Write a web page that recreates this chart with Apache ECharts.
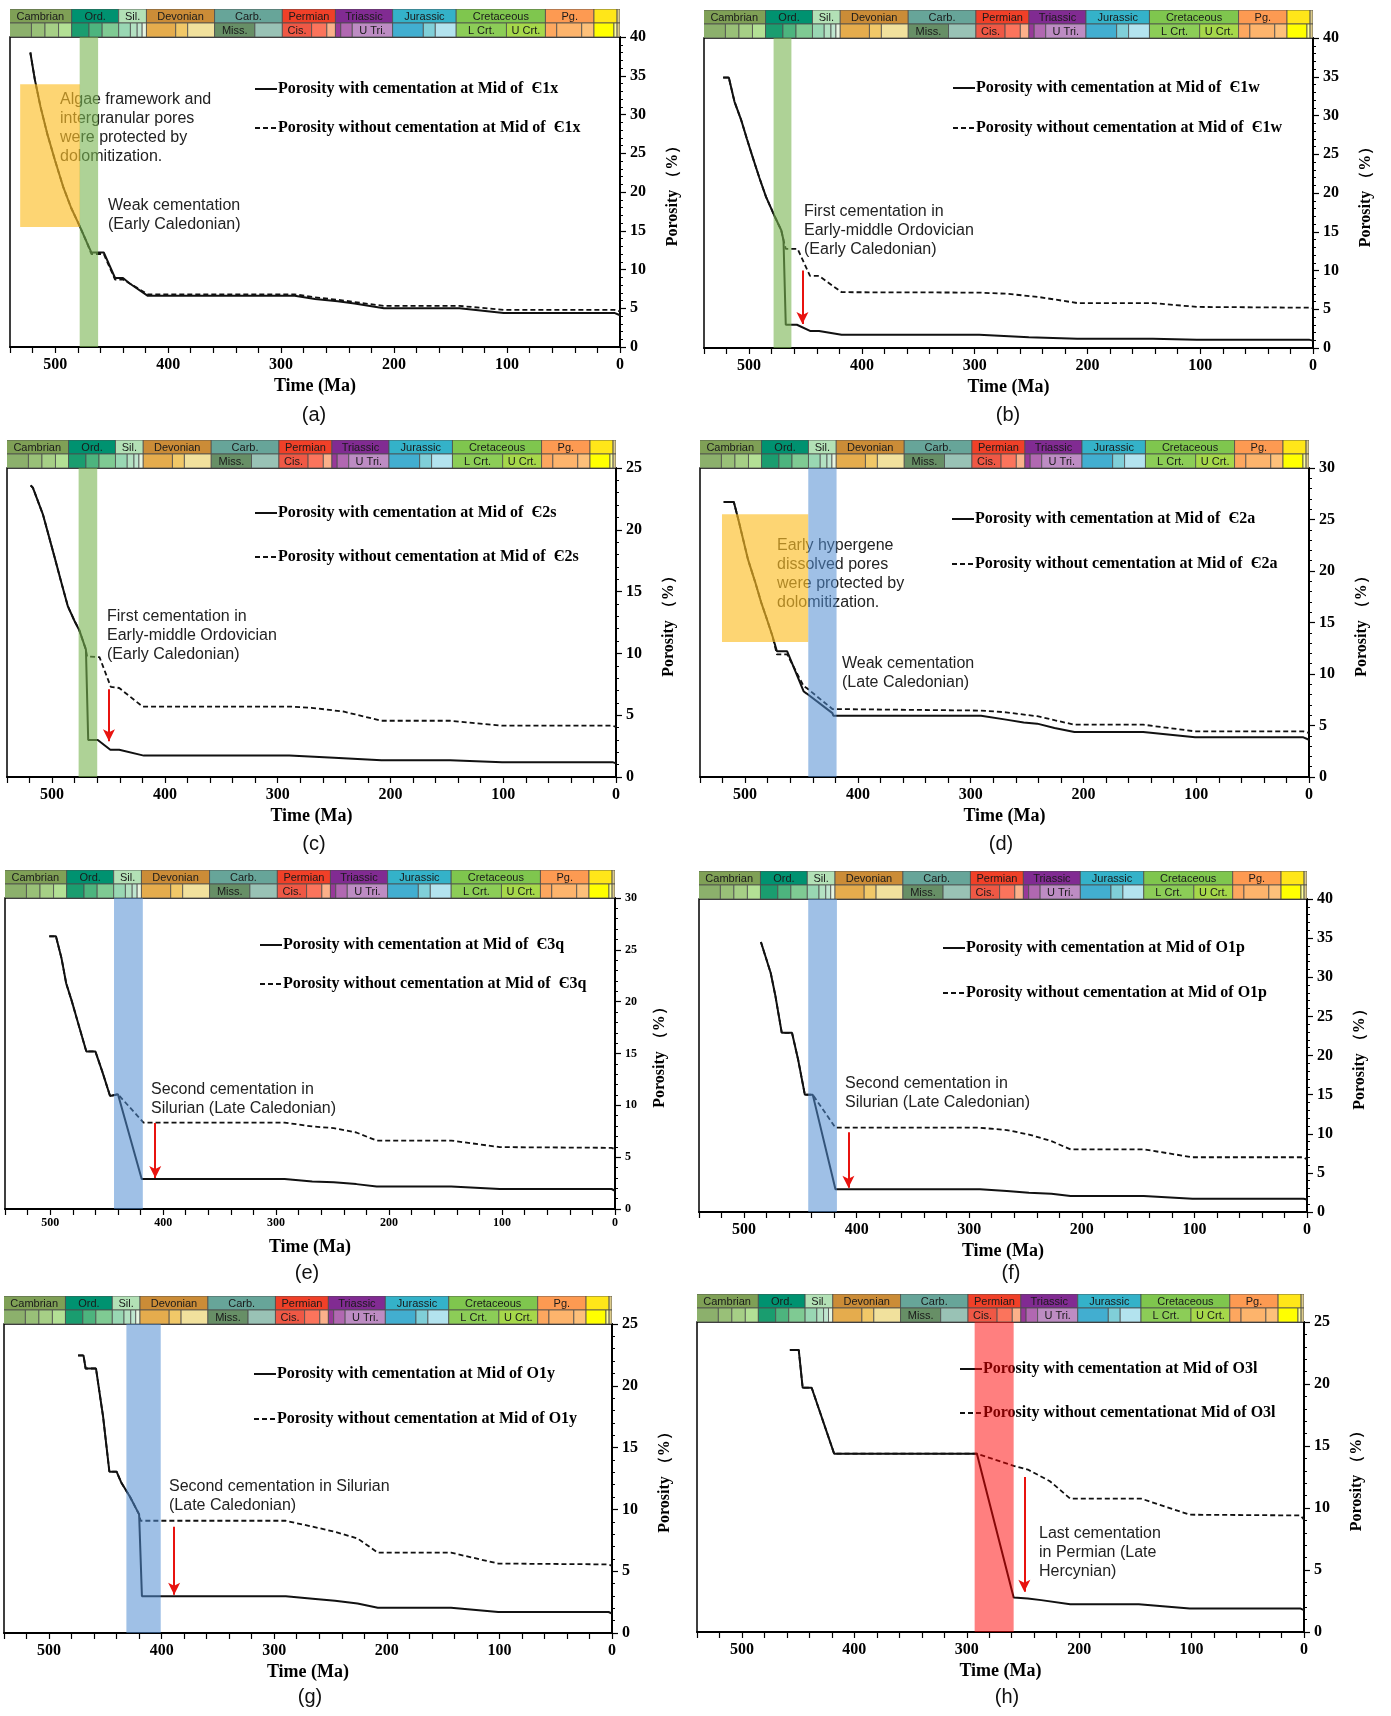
<!DOCTYPE html>
<html><head><meta charset="utf-8">
<script src="https://cdn.jsdelivr.net/npm/echarts@6/dist/echarts.min.js"></script>
<style>html,body{margin:0;padding:0;background:#fff}#c{width:1391px;height:1716px}</style>
</head><body><div id="c"></div>
<script>
// ---------------- DATA ----------------
// Geological time scale (Ma)
const periodNames  = ['Cambrian','Ord.','Sil.','Devonian','Carb.','Permian','Triassic','Jurassic','Cretaceous','Pg.','',''];
const periodStart  = [541,485.4,443.8,419.2,358.9,298.9,251.9,201.3,145,66,23.03,2.58];
const periodEnd    = [485.4,443.8,419.2,358.9,298.9,251.9,201.3,145,66,23.03,2.58,0];
const epochNames   = ['','','','', '','','', '','','','', '','','', 'Miss.','', 'Cis.','','', '','','U Tri.', '','','', 'L Crt.','U Crt.', '','','', '','', ''];
const epochStart   = [541,521,509,497, 485.4,470,458.4, 443.8,433.4,427.4,423, 419.2,393.3,382.7, 358.9,323.2, 298.9,273.01,259.51, 251.9,247.2,237, 201.3,174.1,163.5, 145,100.5, 66,56,33.9, 23.03,5.333, 2.58];
const epochEnd     = [521,509,497,485.4, 470,458.4,443.8, 433.4,427.4,423,419.2, 393.3,382.7,358.9, 323.2,298.9, 273.01,259.51,251.9, 247.2,237,201.3, 174.1,163.5,145, 100.5,66, 56,33.9,23.03, 5.333,2.58, 0];

// Porosity curves [Ma, %]
const solidA  = [[522,38],[518,34.5],[513,31],[507,27.5],[500,24],[493,20.7],[486,18],[478,15.5],[472,13.5],[468,12.2],[457,12.2],[447,8.9],[440,8.9],[434,8.2],[418,6.6],[288,6.6],[270,6.2],[250,5.9],[235,5.6],[209,5.0],[142,5.0],[103,4.4],[5,4.4],[0,4.1]];
const dashedA = [[522,38],[518,34.5],[513,31],[507,27.5],[500,24],[493,20.7],[486,18],[478,15.5],[472,13.5],[468,12.0],[457,12.0],[447,8.7],[440,8.7],[434,8.2],[418,6.8],[288,6.8],[270,6.4],[250,6.1],[235,5.8],[209,5.3],[142,5.3],[103,4.8],[5,4.8],[0,4.6]];
const solidB  = [[523,34.9],[518,34.9],[513,31.8],[507,29.4],[502,27],[497,24.7],[491,22],[485,19.5],[478,17.2],[471.5,15.2],[469.5,13.9],[467.5,3.0],[457.6,3.0],[446,2.2],[438,2.2],[418,1.7],[296,1.7],[252,1.4],[209,1.2],[142,1.2],[103,1.05],[3,1.05],[0,0.95]];
const dashedB = [[523,34.9],[518,34.9],[513,31.8],[507,29.4],[502,27],[497,24.7],[491,22],[485,19.5],[478,17.2],[471.5,15.2],[469.5,13.9],[467.5,12.8],[457,12.8],[446,9.3],[438,9.3],[418,7.2],[296,7.15],[272,7.0],[244,6.6],[209,5.8],[142,5.8],[103,5.3],[3,5.2],[0,5.1]];
const solidC  = [[519,23.6],[517,23.4],[508,21.2],[498,17.85],[492,15.8],[486,13.8],[480,12.6],[476,11.9],[470,10.3],[468,3.0],[459.5,3.0],[448.4,2.2],[440.5,2.2],[418.7,1.73],[289.7,1.73],[250,1.55],[208,1.35],[147,1.35],[101,1.2],[3,1.2],[0,1.1]];
const dashedC = [[519,23.6],[517,23.4],[508,21.2],[498,17.85],[492,15.8],[486,13.8],[480,12.6],[476,11.9],[470,10.3],[469,9.75],[458,9.7],[448,7.3],[440.5,7.2],[419.8,5.7],[289.7,5.7],[270,5.6],[242,5.3],[208,4.55],[147,4.55],[101,4.15],[3,4.15],[0,4.05]];
const solidD  = [[519,26.7],[510,26.7],[506,25],[497.4,21.1],[491,18.9],[485.6,16.9],[480,15.1],[475.7,13.66],[471.8,12.2],[462.7,12.2],[448,8.3],[445.4,8.1],[422.6,6.2],[421.8,5.95],[290.8,5.95],[268.6,5.57],[253,5.3],[241,5.18],[225.7,4.76],[208,4.37],[147,4.37],[101,3.85],[5,3.85],[0,3.62]];
const dashedD = [[519,26.7],[510,26.7],[506,25],[497.4,21.1],[491,18.9],[485.6,16.9],[480,15.1],[475.7,13.66],[471.8,11.9],[462.7,11.9],[448,8.8],[445.4,8.64],[422.6,6.6],[421,6.45],[290.8,6.45],[268.6,6.28],[241,5.9],[225,5.5],[208,5.08],[147,5.08],[101,4.43],[5,4.43],[0,4.27]];
const solidE  = [[500.8,26.3],[494.9,26.3],[490,24.2],[485.8,21.75],[481,20.1],[476,18.2],[468,15.2],[460,15.2],[454,13.3],[447,10.9],[440,11.07],[419,2.9],[292.5,2.9],[268,2.66],[249,2.57],[229,2.4],[211,2.18],[145,2.18],[102,1.93],[3,1.93],[0,1.76]];
const dashedE = [[500.8,26.3],[494.9,26.3],[490,24.2],[485.8,21.75],[481,20.1],[476,18.2],[468,15.2],[460,15.2],[454,13.3],[447,10.9],[440,11.07],[417.4,8.34],[292.5,8.34],[268,7.96],[249,7.8],[229,7.38],[211,6.6],[145,6.6],[102,5.97],[3,5.9],[0,5.77]];
const solidF  = [[485,34.5],[476.3,30.55],[472,27.5],[466.5,22.9],[457.4,22.9],[452,19.5],[446,15.0],[439,15.0],[418.8,2.9],[290.5,2.9],[266.6,2.68],[247,2.47],[227,2.34],[210,2.04],[145,2.04],[101.7,1.7],[3,1.7],[0,1.6]];
const dashedF = [[485,34.5],[476.3,30.55],[472,27.5],[466.5,22.9],[457.4,22.9],[452,19.5],[446,15.0],[439,15.0],[418.8,10.77],[290.5,10.77],[266.6,10.47],[247,9.9],[227,9.06],[210,8.0],[145,8.0],[101.7,7.0],[3,7.0],[0,6.72]];
const solidG  = [[474.2,22.46],[469.4,22.46],[467.5,21.4],[458.3,21.4],[452,17.5],[446.4,13.05],[440,13.05],[436,12.2],[428,11.0],[420,9.6],[417.5,2.97],[289.7,2.97],[265.9,2.78],[246,2.6],[226,2.38],[208,2.05],[143,2.05],[101,1.7],[3,1.7],[0,1.57]];
const dashedG = [[474.2,22.46],[469.4,22.46],[467.5,21.4],[458.3,21.4],[452,17.5],[446.4,13.05],[440,13.05],[436,12.2],[428,11.0],[420,9.6],[418.7,9.08],[289.7,9.08],[265.9,8.6],[246,8.19],[226,7.65],[208,6.5],[143,6.5],[101,5.62],[3,5.55],[0,5.43]];
const solidH  = [[457.4,22.75],[449.5,22.75],[446,19.7],[438,19.7],[418,14.38],[291,14.38],[258.3,2.78],[245.7,2.7],[233.8,2.57],[208,2.24],[147,2.24],[101.7,1.89],[3,1.89],[0,1.76]];
const dashedH = [[457.4,22.75],[449.5,22.75],[446,19.7],[438,19.7],[418,14.38],[291,14.38],[258.3,13.4],[245.7,13.1],[226,12.16],[208,10.76],[145,10.76],[101.7,9.46],[3,9.4],[0,9.05]];

// Highlight bands / boxes [MaOld, MaYoung, yLow, yHigh]
const bandsA = [[531,478,15.5,33.9],[478.3,462,0,40]];
const bandsB = [[478.3,462.5,0,40]];
const bandsC = [[476.5,460,0,25]];
const bandsD = [[520.5,444,13.1,25.5],[444,418.9,0,30]];
const bandsE = [[443.5,418,0,30]];
const bandsF = [[443,417.5,0,40]];
const bandsG = [[431.3,400.8,0,25]];
const bandsH = [[293,258.3,0,25]];

// Red arrows [Ma, yFrom, yTo]
const arrowB = [452.7,10.0,3.1];
const arrowC = [449.6,7.1,2.9];
const arrowE = [407,8.3,3.0];
const arrowF = [407.3,10.2,3.1];
const arrowG = [388.9,8.6,3.1];
const arrowH = [248.8,12.5,3.25];

const yMax = [40,40,25,30,30,40,25,25];
const solidNames = ['Porosity with cementation at Mid of  Є1x','Porosity with cementation at Mid of  Є1w','Porosity with cementation at Mid of  Є2s','Porosity with cementation at Mid of  Є2a','Porosity with cementation at Mid of  Є3q','Porosity with cementation at Mid of O1p','Porosity with cementation at Mid of O1y','Porosity with cementation at Mid of O3l'];
const dashedNames = ['Porosity without cementation at Mid of  Є1x','Porosity without cementation at Mid of  Є1w','Porosity without cementation at Mid of  Є2s','Porosity without cementation at Mid of  Є2a','Porosity without cementation at Mid of  Є3q','Porosity without cementation at Mid of O1p','Porosity without cementation at Mid of O1y','Porosity without cementationat Mid of O3l'];
const panelLetters = ['(a)','(b)','(c)','(d)','(e)','(f)','(g)','(h)'];
const notes = [
  [['Algae framework and','intergranular pores','were protected by','dolomitization.'],['Weak cementation','(Early Caledonian)']],
  [['First cementation in','Early-middle Ordovician','(Early Caledonian)']],
  [['First cementation in','Early-middle Ordovician','(Early Caledonian)']],
  [['Early hypergene','dissolved pores','were protected by','dolomitization.'],['Weak cementation','(Late Caledonian)']],
  [['Second cementation in','Silurian (Late Caledonian)']],
  [['Second cementation in','Silurian (Late Caledonian)']],
  [['Second cementation in Silurian','(Late Caledonian)']],
  [['Last cementation','in Permian (Late','Hercynian)']]
];

// ---------------- STYLE / LAYOUT ----------------
const SERIF = '"Liberation Serif","Times New Roman",serif';
const SANS = '"Liberation Sans",Arial,sans-serif';
const periodColors = ['#7fa056','#009270','#b3e1b6','#cb8c37','#67a599','#f04028','#812b92','#34b2c9','#7fc64e','#fd9a52','#ffe619','#dccb8a'];
const epochColors = ['#8cb06c','#99c078','#a6cf86','#b3e095', '#1a9d6f','#4db47e','#7fca93', '#99d7b3','#b3e1c2','#bfe6cf','#e6f5e1', '#e5ac4d','#f1c868','#f1e19d', '#678f66','#99c2b5', '#ef5845','#fb745c','#fbb08a', '#983999','#b168b1','#bd8cc3', '#42aed0','#80cfd8','#b3e3ee', '#8ccd57','#a6d84a', '#fda75f','#fdb46c','#fdc07a', '#ffff00','#ffff99', '#dccb8a'];
const bandColor = {green:'rgba(120,180,80,0.6)', yellow:'rgba(252,190,40,0.65)', blue:'rgba(80,140,210,0.55)', red:'rgba(255,0,0,0.5)'};
const bandKinds = [['yellow','green'],['green'],['green'],['yellow','blue'],['blue'],['blue'],['blue'],['red']];
const layout = [
  {left:10, top:37, width:610, height:310, legL:254, legT:81, legGap:23, small:false, letter:[314,415], notes:[[60,90],[108,196]]},
  {left:704, top:38, width:609, height:310, legL:952, legT:80, legGap:24, small:false, letter:[1008,415], notes:[[804,202]]},
  {left:7, top:468, width:609, height:309, legL:254, legT:505, legGap:28, small:false, letter:[314,844], notes:[[107,607]]},
  {left:700, top:468, width:609, height:309, legL:951, legT:511, legGap:29, small:false, letter:[1001,844], notes:[[777,536],[842,654]]},
  {left:5, top:898, width:610, height:311, legL:259, legT:937, legGap:23, small:true, letter:[307,1273], notes:[[151,1080]]},
  {left:699, top:899, width:608, height:313, legL:942, legT:940, legGap:29, small:false, letter:[1011,1273], notes:[[845,1074]]},
  {left:4, top:1324, width:608, height:309, legL:253, legT:1366, legGap:29, small:false, letter:[310,1697], notes:[[169,1477]]},
  {left:697, top:1322, width:607, height:310, legL:959, legT:1361, legGap:28, small:false, letter:[1007,1697], notes:[[1039,1524]]}
];
const solids = [solidA,solidB,solidC,solidD,solidE,solidF,solidG,solidH];
const dasheds = [dashedA,dashedB,dashedC,dashedD,dashedE,dashedF,dashedG,dashedH];
const bands = [bandsA,bandsB,bandsC,bandsD,bandsE,bandsF,bandsG,bandsH];
const arrows = [null,arrowB,arrowC,null,arrowE,arrowF,arrowG,arrowH];

// geo cells
const geoCells = [];
periodNames.forEach((n,i)=>geoCells.push({value:[periodStart[i],periodEnd[i],0], label:n, color:periodColors[i]}));
epochNames.forEach((n,i)=>geoCells.push({value:[epochStart[i],epochEnd[i],1], label:n, color:epochColors[i]}));

function geoRender(params, api){
  const c = geoCells[params.dataIndex];
  const p0 = api.coord([api.value(0), 2 - api.value(2)]);
  const p1 = api.coord([api.value(1), 1 - api.value(2)]);
  const x = Math.min(p0[0],p1[0]), y = Math.min(p0[1],p1[1]);
  const w = Math.abs(p1[0]-p0[0]), h = Math.abs(p1[1]-p0[1]);
  return {type:'group', children:[
    {type:'rect', shape:{x:x,y:y,width:w,height:h}, style:{fill:c.color, stroke:'#4d4d4d', lineWidth:0.8}},
    {type:'text', style:{text:c.label, x:x+w/2, y:y+h/2+0.5, align:'center', verticalAlign:'middle', font:'11px '+SANS, fill:'#1a1a1a'}}
  ]};
}
function bandRender(params, api){
  const p0 = api.coord([api.value(0), api.value(3)]);
  const p1 = api.coord([api.value(1), api.value(2)]);
  return {type:'rect', shape:{x:Math.min(p0[0],p1[0]), y:Math.min(p0[1],p1[1]), width:Math.abs(p1[0]-p0[0]), height:Math.abs(p1[1]-p0[1])}, style:{fill:api.visual('color')}};
}

const option = {backgroundColor:'#fff', animation:false, grid:[], xAxis:[], yAxis:[], series:[], legend:[], graphic:[]};
layout.forEach((L,i)=>{
  const gi = i*2;
  const fs = L.small ? 12 : 16;
  option.grid.push({left:L.left, top:L.top, width:L.width, height:L.height, show:true, borderColor:'#000', borderWidth:1.5, backgroundColor:'transparent'});
  option.grid.push({left:L.left, top:L.top-28, width:L.width, height:28});
  option.xAxis.push({gridIndex:gi, type:'value', min:0, max:540, interval:20, inverse:true,
    axisLine:{onZero:false, lineStyle:{color:'#000', width:2}},
    axisTick:{length:6, lineStyle:{color:'#000', width:1.2}},
    splitLine:{show:false},
    axisLabel:{interval:0, formatter:v=> (v%100===0 ? String(v) : ''), margin:L.small?8:10, fontSize:fs, fontWeight:'bold', fontFamily:SERIF, color:'#000'},
    name:'Time (Ma)', nameLocation:'middle', nameGap:L.small?29:30,
    nameTextStyle:{fontSize:18, fontWeight:'bold', fontFamily:SERIF, color:'#000'}});
  option.xAxis.push({gridIndex:gi+1, type:'value', min:0, max:540, inverse:true, show:false});
  option.yAxis.push({gridIndex:gi, type:'value', position:'right', min:0, max:yMax[i], interval:5,
    axisLine:{show:true, onZero:false, lineStyle:{color:'#000', width:2}},
    axisTick:{show:true, length:6, lineStyle:{color:'#000', width:1.2}},
    minorTick:{show:true, splitNumber:5, length:3, lineStyle:{color:'#000', width:1}},
    splitLine:{show:false},
    axisLabel:{margin:10, fontSize:fs, fontWeight:'bold', fontFamily:SERIF, color:'#000'},
    name:'Porosity （%）', nameLocation:'middle', nameRotate:90, nameGap:L.small?37:45,
    nameTextStyle:{fontSize:16, fontWeight:'bold', fontFamily:SERIF, color:'#000'}});
  option.yAxis.push({gridIndex:gi+1, type:'value', min:0, max:2, show:false});

  option.series.push({type:'line', name:solidNames[i], xAxisIndex:gi, yAxisIndex:gi, data:solids[i], symbol:'none',
    lineStyle:{color:'#111', width:2}, itemStyle:{color:'#111'}, z:3, silent:true});
  const ds = {type:'line', name:dashedNames[i], xAxisIndex:gi, yAxisIndex:gi, data:dasheds[i], symbol:'none',
    lineStyle:{color:'#111', width:1.8, type:[5,3]}, itemStyle:{color:'#111'}, z:3, silent:true};
  if (arrows[i]) {
    const a = arrows[i];
    ds.markLine = {silent:true, symbol:['none','arrow'], symbolSize:[9,12], label:{show:false},
      lineStyle:{color:'#e8130f', width:2, type:'solid'},
      data:[[{coord:[a[0],a[1]]},{coord:[a[0],a[2]]}]]};
  }
  option.series.push(ds);
  option.series.push({type:'custom', xAxisIndex:gi, yAxisIndex:gi, renderItem:bandRender, silent:true, z:10,
    data:bands[i].map((b,k)=>({value:b, itemStyle:{color:bandColor[bandKinds[i][k]]}}))});
  option.series.push({type:'custom', xAxisIndex:gi+1, yAxisIndex:gi+1, renderItem:geoRender, silent:true, clip:true,
    data:geoCells.map(c=>({value:c.value}))});

  option.legend.push({data:[solidNames[i], dashedNames[i]], orient:'vertical', left:L.legL, top:L.legT, itemGap:L.legGap,
    itemWidth:22, itemHeight:14, selectedMode:false, padding:0,
    itemStyle:{color:'rgba(0,0,0,0)', borderColor:'rgba(0,0,0,0)', borderWidth:0, opacity:0},
    textStyle:{fontFamily:SERIF, fontWeight:'bold', fontSize:16, color:'#000', lineHeight:16, padding:[0,0,0,-4]}});

  option.graphic.push({type:'text', x:L.letter[0], y:L.letter[1], z:1,
    style:{text:panelLetters[i], align:'center', verticalAlign:'middle', font:'20px '+SANS, fill:'#111'}});
  notes[i].forEach((lines,k)=>{
    option.graphic.push({type:'text', x:L.notes[k][0], y:L.notes[k][1], z:1,
      style:{text:lines.join('\n'), font:'16px '+SANS, fill:'#222', lineHeight:19}});
  });
});
const chart = echarts.init(document.getElementById('c'), null, {renderer:'canvas'});
chart.setOption(option);
</script></body></html>
